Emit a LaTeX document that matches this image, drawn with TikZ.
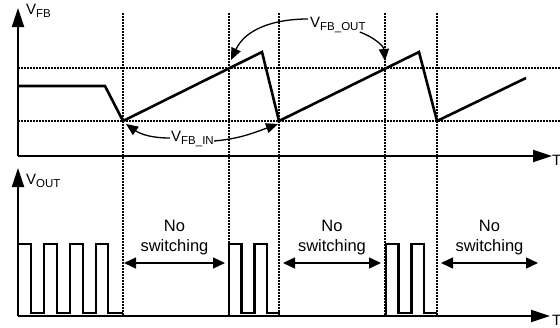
\documentclass[tikz,border=0pt]{standalone}
\usepackage{fontspec}
\setmainfont{Liberation Sans}
\usetikzlibrary{arrows.meta}

% lowered subscript text
\newcommand{\lowtxt}[1]{\raisebox{-3pt}{\fontsize{11.5}{11.5}\selectfont #1}}

\begin{document}
\begin{tikzpicture}[x=1pt,y=-1pt,
    axis/.style={line width=1.8pt,-{Triangle[length=19pt,width=12pt]}},
    wave/.style={line width=2.6pt,line join=miter},
    pulse/.style={line width=2.2pt,line join=miter},
    grid line/.style={line width=1.1pt,dash pattern=on 1.6pt off 1.4pt},
    gapspan/.style={line width=1.4pt,{Triangle[length=12pt,width=11pt]}-{Triangle[length=12pt,width=11pt]}},
    pointer/.style={line width=1.3pt,-{Triangle[length=12pt,width=10pt]}},
    lbl/.style={font=\fontsize{15}{15}\selectfont,inner sep=0pt},
    gap text/.style={font=\fontsize{16.5}{20}\selectfont,align=center,inner sep=0pt}]

\useasboundingbox (0,0) rectangle (560,327);

% Define levels
\def\yhi{68}
\def\ylo{121}
\def\ptop{244}
\def\pbot{313}

% ===== Dotted guide lines =====
\draw[grid line] (18,\yhi) -- (560,\yhi);
\draw[grid line] (18,\ylo) -- (560,\ylo);
\draw[grid line] (123,13) -- (123,316);
\draw[grid line] (229,13) -- (229,316);
\draw[grid line] (279,13) -- (279,316);
\draw[grid line] (385,13) -- (385,316);
\draw[grid line] (437,13) -- (437,316);

% ===== Top plot (V_FB) =====
\coordinate (o1) at (18,156);
\draw[axis] (o1) -- (18,8);
\draw[axis] (o1) -- (552,156);
\node[lbl,anchor=west] (vfb) at (26,11) {V\lowtxt{FB}};
\node[lbl,anchor=west] (tA) at (552,160) {T};

% Draw feedback ramp
\draw[wave] (18,86) -- (105,86) -- (123,\ylo) -- (262,52) -- (279,\ylo)
    -- (419,52) -- (437,\ylo) -- (526,78);

% Labels with pointers
\node[lbl,anchor=west] (fbin) at (171,139) {V\lowtxt{FB\_IN}};
\coordinate (inL) at (126,124);
\coordinate (inR) at (278,124);
\draw[pointer] ([xshift=-1pt,yshift=1pt]fbin.west) to[out=180,in=-35] (inL);
\draw[pointer] ([yshift=-2pt]fbin.east) to[out=5,in=200] (inR);

\node[lbl,anchor=west] (fbout) at (310,25) {V\lowtxt{FB\_OUT}};
\coordinate (outL) at (231,60);
\coordinate (outR) at (385,61);
\draw[pointer] ([xshift=-2pt,yshift=-2pt]fbout.north west) to[out=180,in=65] (outL);
\draw[pointer] ([xshift=-6pt,yshift=1pt]fbout.south east) to[out=-20,in=95] (outR);

% ===== Bottom plot (V_OUT) =====
\coordinate (o2) at (18,316);
\draw[axis] (o2) -- (18,168);
\draw[axis] (o2) -- (550,316);
\node[lbl,anchor=west] (vout) at (26,181) {V\lowtxt{OUT}};
\node[lbl,anchor=west] (tB) at (552,320) {T};

% Draw first burst (four pulses)
\draw[pulse] (18,\ptop) -- (31,\ptop) -- (31,\pbot) -- (44,\pbot) -- (44,\ptop)
    -- (57,\ptop) -- (57,\pbot) -- (70,\pbot) -- (70,\ptop) -- (83,\ptop)
    -- (83,\pbot) -- (96,\pbot) -- (96,\ptop) -- (108,\ptop) -- (108,\pbot)
    -- (123,\pbot);

% Draw second burst (two pulses)
\begin{scope}[shift={(229,0)}]
    \draw[pulse] (0,316) -- (0,\ptop) -- (12.5,\ptop) -- (12.5,\pbot) -- (25.5,\pbot)
        -- (25.5,\ptop) -- (38,\ptop) -- (38,\pbot) -- (50.5,\pbot);
\end{scope}

% Draw third burst (two pulses)
\begin{scope}[shift={(386,0)}]
    \draw[pulse] (0,316) -- (0,\ptop) -- (12.5,\ptop) -- (12.5,\pbot) -- (25.5,\pbot)
        -- (25.5,\ptop) -- (38,\ptop) -- (38,\pbot) -- (51,\pbot);
\end{scope}

% No switching gaps
\coordinate (g1a) at (124,263);
\coordinate (g1b) at (225,263);
\coordinate (g2a) at (283,263);
\coordinate (g2b) at (381,263);
\coordinate (g3a) at (441,263);
\coordinate (g3b) at (538,263);
\draw[gapspan] (g1a) -- (g1b);
\draw[gapspan] (g2a) -- (g2b);
\draw[gapspan] (g3a) -- (g3b);
\node[gap text] (ns1) at (174.5,238) {No\\switching};
\node[gap text] (ns2) at (332,238) {No\\switching};
\node[gap text] (ns3) at (489.5,238) {No\\switching};

\end{tikzpicture}
\end{document}
